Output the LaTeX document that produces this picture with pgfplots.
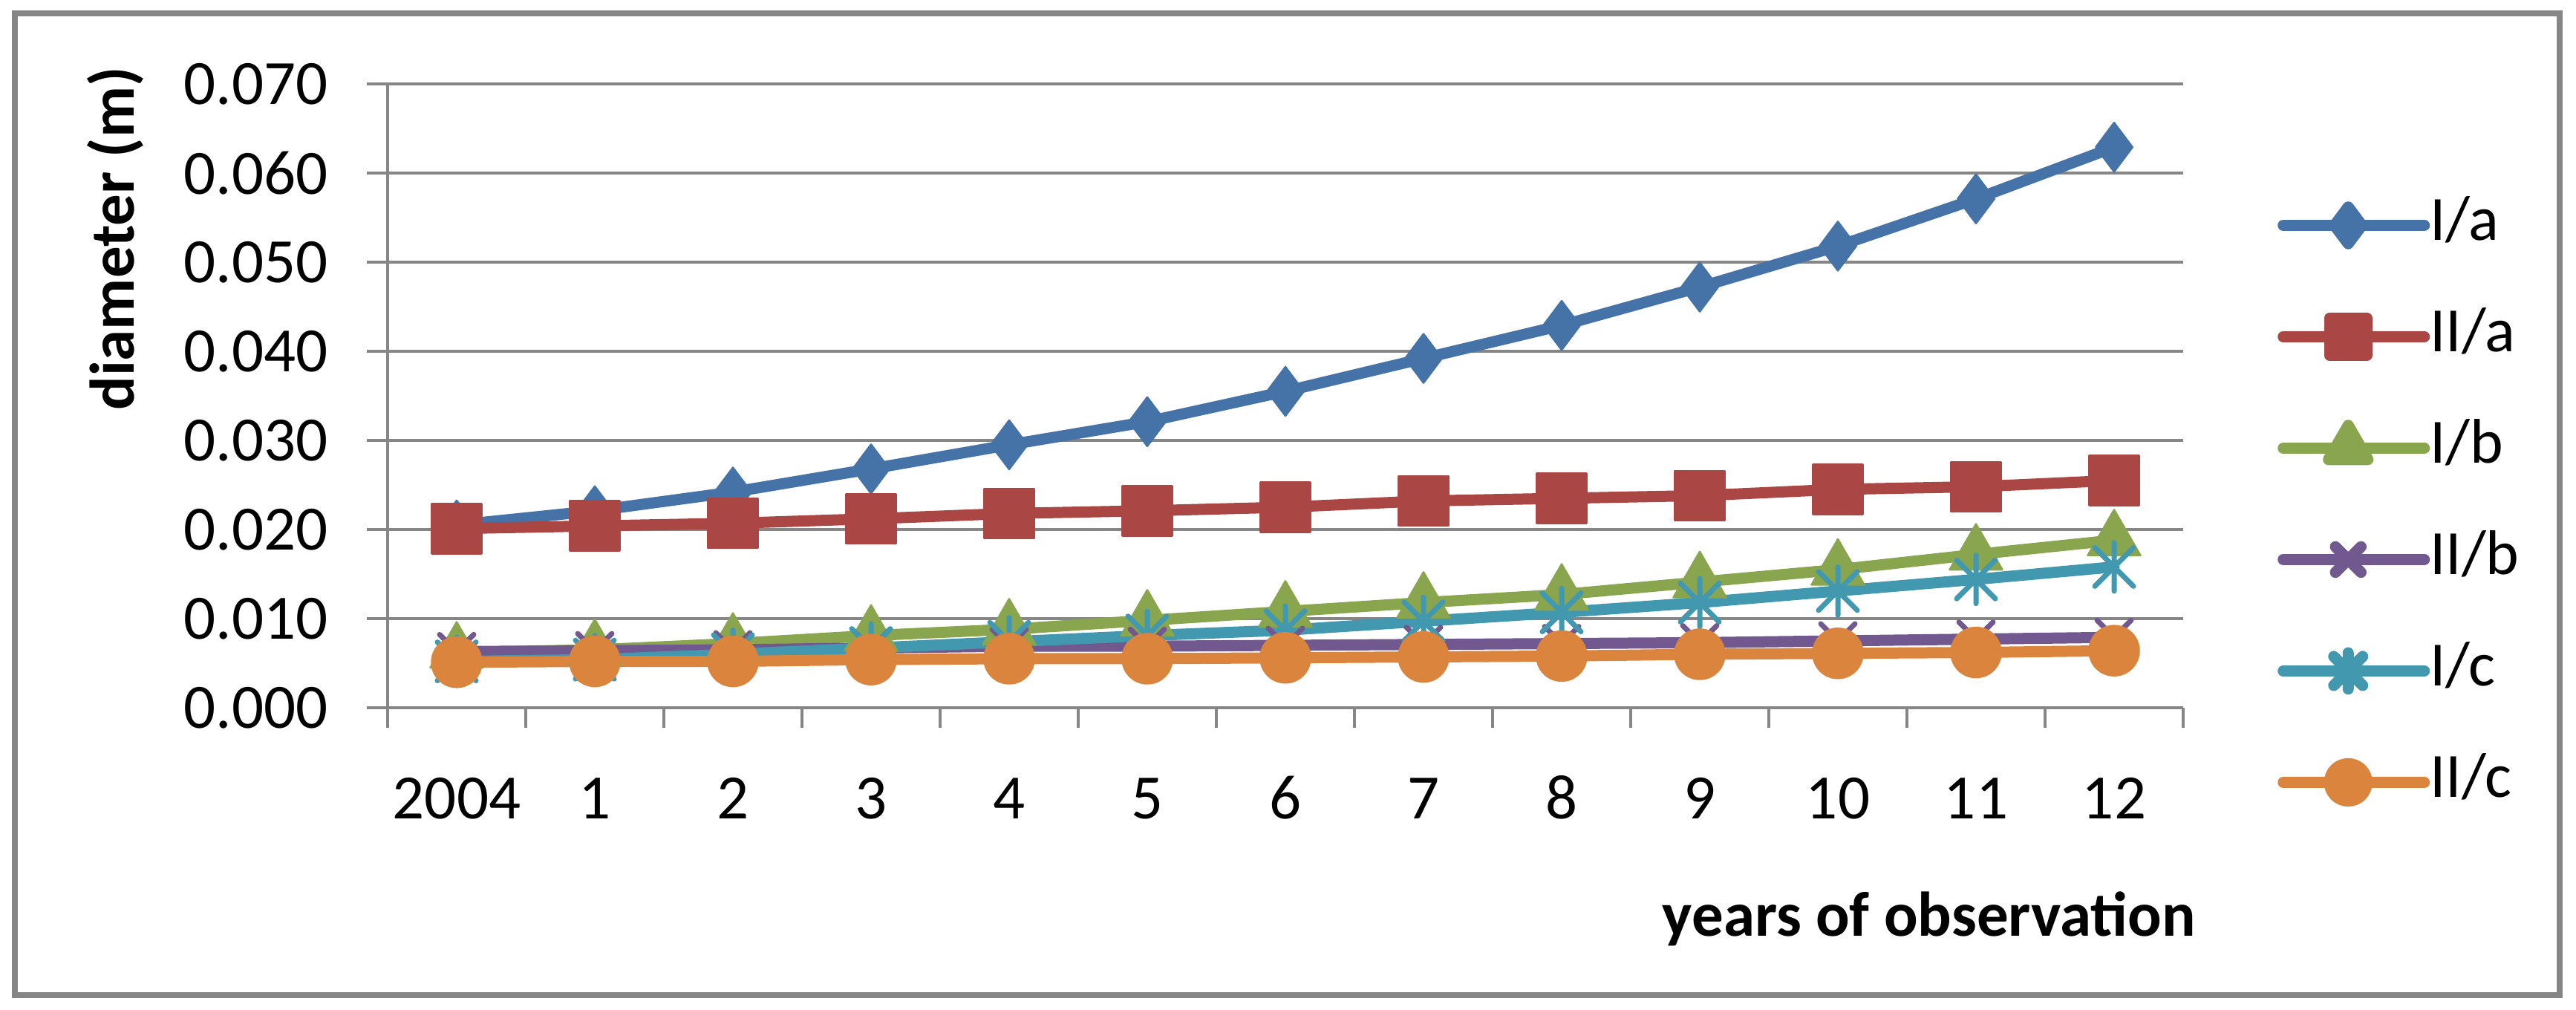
\documentclass[border=0pt]{standalone}
\usepackage{fontspec}
\setmainfont{Carlito}
\usepackage{pgfplots}
\pgfplotsset{compat=1.18}
\usetikzlibrary{plotmarks}

\definecolor{cA}{HTML}{4572A7}
\definecolor{cB}{HTML}{AA4643}
\definecolor{cC}{HTML}{89A54E}
\definecolor{cD}{HTML}{71588F}
\definecolor{cE}{HTML}{4198AF}
\definecolor{cF}{HTML}{DB843D}
\definecolor{gridc}{RGB}{134,134,134}

\pgfdeclareplotmark{xstar}{%
  \pgfpathmoveto{\pgfqpoint{0pt}{\pgfplotmarksize}}%
  \pgfpathlineto{\pgfqpoint{0pt}{-\pgfplotmarksize}}%
  \pgfpathmoveto{\pgfqpoint{-0.8\pgfplotmarksize}{-0.8\pgfplotmarksize}}%
  \pgfpathlineto{\pgfqpoint{0.8\pgfplotmarksize}{0.8\pgfplotmarksize}}%
  \pgfpathmoveto{\pgfqpoint{-0.8\pgfplotmarksize}{0.8\pgfplotmarksize}}%
  \pgfpathlineto{\pgfqpoint{0.8\pgfplotmarksize}{-0.8\pgfplotmarksize}}%
  \pgfusepathqstroke}

\newcommand{\fs}{\fontsize{17}{20}\selectfont}

\begin{document}
\begin{tikzpicture}
\useasboundingbox (0,0) rectangle (693.8pt,272pt);
\draw[gridc, line width=1.6pt] (4pt,4pt) rectangle (689.4pt,268.4pt);
\begin{axis}[
  at={(104.4pt,81.4pt)}, anchor=south west,
  scale only axis, width=483.6pt, height=168pt,
  xmin=-0.5, xmax=12.5, ymin=0, ymax=0.07,
  axis lines*=left,
  axis line style={gridc, line width=0.7pt},
  clip=false,
  ytick={0,0.01,0.02,0.03,0.04,0.05,0.06,0.07},
  scaled y ticks=false,
  yticklabel style={/pgf/number format/fixed, /pgf/number format/fixed zerofill, /pgf/number format/precision=3, anchor=east, inner sep=0pt, xshift=-10.4pt},
  xtick={-0.5,0.5,1.5,2.5,3.5,4.5,5.5,6.5,7.5,8.5,9.5,10.5,11.5,12.5},
  xticklabels={},
  extra x ticks={0,1,2,3,4,5,6,7,8,9,10,11,12},
  extra x tick labels={2004,1,2,3,4,5,6,7,8,9,10,11,12},
  extra x tick style={major tick length=0pt, grid=none},
  xticklabel style={anchor=base, inner sep=0pt, yshift=-30pt},
  tick align=outside,
  major tick length=5.5pt,
  tick style={gridc, line width=0.7pt},
  ymajorgrids,
  major grid style={gridc, line width=0.7pt},
  tick label style={font=\fs},
  /pgf/number format/assume math mode=true,
  ylabel={\bfseries diameter (m)},
  ylabel style={at={(axis description cs:-0.1518,0.752)}, anchor=center, font=\fs},
  xlabel={\bfseries years of observation},
  xlabel style={at={(axis description cs:1.0074,-0.339)}, anchor=east, inner sep=0pt, font=\fs},
  legend style={draw=none, fill=none, at={(axis description cs:1.046,0.834)}, anchor=north west,
    font=\fs, row sep=14pt, nodes={inner sep=0pt, text height=12pt, text depth=4pt}},
  legend cell align=left,
  legend image code/.code={%
    \draw[mark repeat=2, mark phase=2, mark options={scale=0.75}] plot coordinates {(0pt,0pt) (17.5pt,0pt) (35pt,0pt)};
    \path (35pt,0pt) -- (38pt,0pt);},
  every axis plot/.append style={line width=3pt, line join=round, line cap=round},
]
\addplot[cA, mark=diamond*, mark size=6.6pt, mark options={solid, fill=cA, line width=0.5pt}] coordinates {
(0,0.0205) (1,0.0221) (2,0.0242) (3,0.0268) (4,0.0295) (5,0.0321) (6,0.0355) (7,0.0392) (8,0.0429) (9,0.0472) (10,0.0518) (11,0.0571) (12,0.0629)};
\addlegendentry{I/a}
\addplot[cB, mark=square*, mark size=6.7pt, mark options={solid, fill=cB, line width=0.5pt}] coordinates {
(0,0.0201) (1,0.0204) (2,0.0207) (3,0.0212) (4,0.0218) (5,0.0221) (6,0.0225) (7,0.0232) (8,0.0235) (9,0.0238) (10,0.0245) (11,0.0248) (12,0.0255)};
\addlegendentry{II/a}
\addplot[cC, mark=triangle*, mark size=8.2pt, mark options={solid, fill=cC, line width=0.5pt}] coordinates {
(0,0.0062) (1,0.0065) (2,0.0072) (3,0.0081) (4,0.0088) (5,0.0098) (6,0.0108) (7,0.0118) (8,0.0127) (9,0.0141) (10,0.0155) (11,0.0172) (12,0.0188)};
\addlegendentry{I/b}
\addplot[cD, mark=x, mark size=6.5pt, mark options={solid, line width=1.4pt}] coordinates {
(0,0.0063) (1,0.0064) (2,0.0065) (3,0.0067) (4,0.0069) (5,0.0069) (6,0.0070) (7,0.0071) (8,0.0072) (9,0.0073) (10,0.0075) (11,0.0077) (12,0.0079)};
\addlegendentry{II/b}
\addplot[cE, mark=xstar, mark size=6.5pt, mark options={solid, line width=1.4pt}] coordinates {
(0,0.0052) (1,0.0054) (2,0.0060) (3,0.0067) (4,0.0074) (5,0.0081) (6,0.0087) (7,0.0097) (8,0.0107) (9,0.0118) (10,0.0131) (11,0.0144) (12,0.0158)};
\addlegendentry{I/c}
\addplot[cF, mark=*, mark size=6.7pt, mark options={solid, fill=cF, line width=0.5pt}] coordinates {
(0,0.0051) (1,0.0052) (2,0.0052) (3,0.0054) (4,0.0055) (5,0.0055) (6,0.0056) (7,0.0057) (8,0.0058) (9,0.0060) (10,0.0061) (11,0.0062) (12,0.0064)};
\addlegendentry{II/c}
\end{axis}
\end{tikzpicture}
\end{document}
